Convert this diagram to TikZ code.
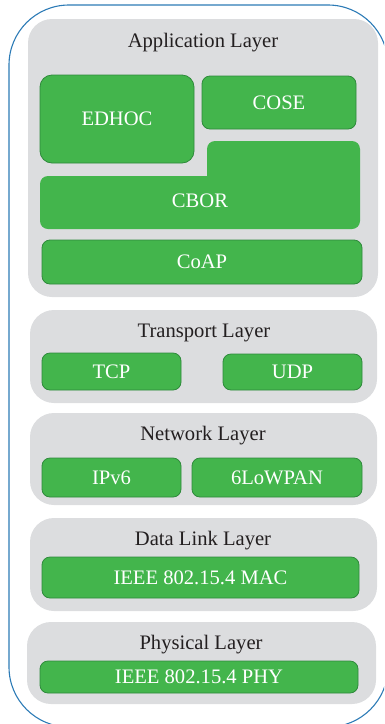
\documentclass[tikz,border=0pt]{standalone}
\usepackage{fontspec}
\setmainfont{Liberation Serif}
\definecolor{outerblue}{HTML}{2C7BB6}
\definecolor{panelgray}{HTML}{DCDDDF}
\definecolor{boxgreen}{HTML}{43B54C}
\definecolor{boxedge}{HTML}{2E8A3B}
\definecolor{titlegray}{HTML}{231F20}
\tikzset{
  panel/.style={fill=panelgray, draw=none, rounded corners=24pt, inner sep=0pt},
  gbox/.style={fill=boxgreen, draw=boxedge, line width=0.8pt, rounded corners=8pt, inner sep=0pt, text=white, font=\fontsize{20.6}{22}\selectfont},
  gtext/.style={text=white, inner sep=0pt, font=\fontsize{20.6}{22}\selectfont},
  ltitle/.style={text=titlegray, inner sep=0pt, font=\fontsize{20.6}{22}\selectfont},
}
\begin{document}
\begin{tikzpicture}[x=1pt,y=-1pt]
\useasboundingbox (0,0) rectangle (384,724);
\clip (0,0) rectangle (384,724);
% outer frame
\draw[outerblue, line width=1.1pt, rounded corners=60pt] (9,5) rectangle (388,727);
% panels
\node[panel, minimum width=350pt, minimum height=278pt] (app) at (203,158) {};
\node[panel, minimum width=347pt, minimum height=93pt] (trans) at (203.5,356.5) {};
\node[panel, minimum width=347pt, minimum height=92pt] (net) at (203.5,459) {};
\node[panel, minimum width=347pt, minimum height=93pt] (dl) at (203.5,564.5) {};
\node[panel, minimum width=349pt, minimum height=82pt] (phy) at (201.5,663) {};
% titles
\node[ltitle] (appT) at (203,43) {Application Layer};
\node[ltitle] (transT) at (204,333) {Transport Layer};
\node[ltitle] (netT) at (203,436) {Network Layer};
\node[ltitle] (dlT) at (203,541) {Data Link Layer};
\node[ltitle] (phyT) at (201,645) {Physical Layer};
% application boxes
\node[gbox, rounded corners=12pt, minimum width=154pt, minimum height=88pt] (edhoc) at (117,119) {EDHOC};
\node[gbox, minimum width=154pt, minimum height=53pt] (cose) at (279,102.5) {COSE};
\fill[boxgreen] (120,176) [sharp corners] -- (207,176) -- (207,160) [rounded corners=8pt] -- (207,141) -- (360,141) -- (360,229) -- (40,229) -- (40,176) -- cycle;
\node[gtext] (cbor) at (200,201) {CBOR};
\node[gbox, minimum width=320pt, minimum height=44pt] (coap) at (202,262) {CoAP};
% transport
\node[gbox, minimum width=139pt, minimum height=37pt] (tcp) at (111.5,371.5) {TCP};
\node[gbox, minimum width=139pt, minimum height=36pt] (udp) at (292.5,372) {UDP};
% network
\node[gbox, minimum width=139pt, minimum height=39pt] (ipv6) at (111.5,477.5) {IPv6};
\node[gbox, minimum width=170pt, minimum height=39pt] (lowpan) at (277,477.5) {6LoWPAN};
% data link
\node[gbox, minimum width=317pt, minimum height=41pt] (mac) at (200.5,577.5) {IEEE 802.15.4 MAC};
% physical
\node[gbox, minimum width=318pt, minimum height=32pt] (phybox) at (199,677) {IEEE 802.15.4 PHY};
\end{tikzpicture}
\end{document}
